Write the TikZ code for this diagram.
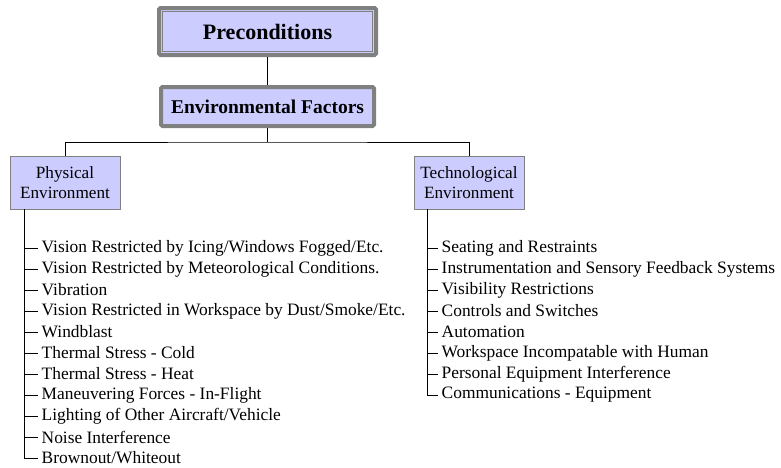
\documentclass[tikz,border=0pt]{standalone}
\usepackage{fontspec}
\setmainfont{Liberation Serif}
\begin{document}
\begin{tikzpicture}[x=1pt,y=-1pt,
  every node/.style={font=\fontsize{17.4}{19}\selectfont},
  topbox/.style={draw=boxgray, line width=4pt, fill=boxfill, rounded corners=1.5pt, inner sep=0pt, font=\fontsize{22}{24}\selectfont\bfseries},
  subbox/.style={draw=boxgray, line width=0.8pt, fill=boxfill, inner sep=0pt, align=center, minimum width=110pt, minimum height=53pt, font=\fontsize{17.2}{20}\selectfont},
  item/.style={anchor=west, inner xsep=3.5pt, inner ysep=1pt},
  conn/.style={draw=black, line width=0.9pt}
]
\definecolor{boxgray}{RGB}{128,128,128}
\definecolor{boxfill}{RGB}{204,204,255}
\useasboundingbox (0,0) rectangle (781,467);
% top boxes
\node[topbox, minimum width=217pt, minimum height=47pt] (pre) at (267.5,31.5) {Preconditions};
\draw[boxgray, line width=0.8pt] ([xshift=5.5pt,yshift=-5.5pt]pre.north west) rectangle ([xshift=-5.5pt,yshift=5.5pt]pre.south east);
\node[topbox, minimum width=213pt, minimum height=39pt, font=\fontsize{19.5}{21}\selectfont\bfseries] (ef) at (267.5,106.5) {Environmental Factors};
\draw[conn] (pre.south) -- (ef.north);
% second level
\node[subbox] (pe) at (65,182.5) {Physical\\Environment};
\node[subbox] (te) at (469,182.5) {Technological\\Environment};
\coordinate (bus) at (267.5,142);
\draw[conn] (ef.south) -- (bus);
\draw[conn] (pe.north) |- (bus) -| (te.north);
% physical items
\coordinate (ptop) at (24,209);
\foreach \t [count=\i] in {Vision Restricted by Icing/Windows Fogged/Etc.,
  Vision Restricted by Meteorological Conditions.,
  Vibration,
  Vision Restricted in Workspace by Dust/Smoke/Etc.,
  Windblast,
  Thermal Stress - Cold,
  Thermal Stress - Heat,
  Maneuvering Forces - In-Flight,
  Lighting of Other Aircraft/Vehicle,
  Noise Interference,
  Brownout/Whiteout}{
  \node[item] (p\i) at (38,{248+21*(\i-1)}) {\t};
  \draw[conn] (ptop |- p\i.west) -- (p\i.west);
}
\draw[conn] (ptop) -- (ptop |- p11.west);
% technological items
\coordinate (ttop) at (427,209);
\foreach \t [count=\i] in {Seating and Restraints,
  Instrumentation and Sensory Feedback Systems,
  Visibility Restrictions,
  Controls and Switches,
  Automation,
  Workspace Incompatable with Human,
  Personal Equipment Interference,
  Communications - Equipment}{
  \node[item] (t\i) at (438,{248+21*(\i-1)}) {\t};
  \draw[conn] (ttop |- t\i.west) -- (t\i.west);
}
\draw[conn] (ttop) -- (ttop |- t8.west);
\end{tikzpicture}
\end{document}
